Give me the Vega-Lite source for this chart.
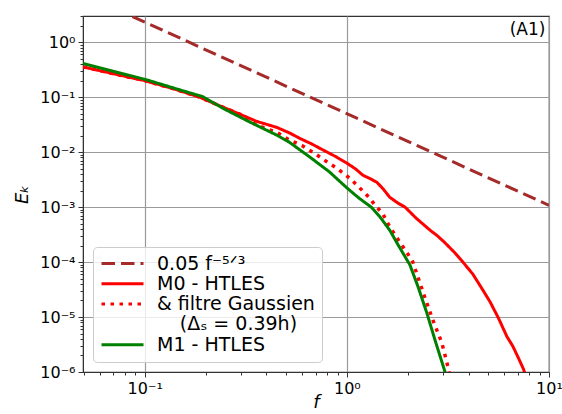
{
  "$schema": "https://vega.github.io/schema/vega-lite/v6.json",
  "width": 466,
  "height": 356,
  "autosize": {"type": "none"},
  "padding": {"left": 83, "top": 16, "right": 13, "bottom": 42},
  "background": "white",
  "config": {
    "font": "DejaVu Sans",
    "view": {"stroke": "#333", "strokeWidth": 1.2},
    "axis": {
      "labelFont": "DejaVu Sans",
      "labelFontSize": 16,
      "labelColor": "#000",
      "titleFont": "DejaVu Sans",
      "titleFontSize": 18,
      "titleFontWeight": "normal",
      "titleFontStyle": "italic",
      "titleColor": "#000",
      "domainColor": "#333",
      "tickColor": "#333",
      "gridColor": "#9a9a9a",
      "gridWidth": 1.2,
      "labelOverlap": false,
      "labelFlush": false,
      "labelBound": false
    },
    "legend": {
      "orient": "bottom-left",
      "offset": 10,
      "padding": 7,
      "strokeColor": "#cccccc",
      "cornerRadius": 4,
      "fillColor": "rgba(255,255,255,0.8)",
      "labelFont": "DejaVu Sans",
      "labelFontSize": 19,
      "labelColor": "#000",
      "symbolType": "stroke",
      "symbolSize": 1764,
      "symbolStrokeWidth": 3,
      "labelOffset": 12,
      "clipHeight": 19,
      "rowPadding": 0.3,
      "labelLimit": 300
    }
  },
  "data": {
    "values": [
      {"s": "0.05 f⁻⁵ᐟ³", "f": 0.087, "E": 2.93},
      {"s": "0.05 f⁻⁵ᐟ³", "f": 10, "E": 0.001077},

      {"s": "M0 - HTLES", "f": 0.0495, "E": 0.356},
      {"s": "M0 - HTLES", "f": 0.07, "E": 0.267},
      {"s": "M0 - HTLES", "f": 0.1, "E": 0.2},
      {"s": "M0 - HTLES", "f": 0.14, "E": 0.141},
      {"s": "M0 - HTLES", "f": 0.187, "E": 0.1},
      {"s": "M0 - HTLES", "f": 0.243, "E": 0.0661},
      {"s": "M0 - HTLES", "f": 0.3, "E": 0.0479},
      {"s": "M0 - HTLES", "f": 0.358, "E": 0.0363},
      {"s": "M0 - HTLES", "f": 0.45, "E": 0.0282},
      {"s": "M0 - HTLES", "f": 0.52, "E": 0.0224},
      {"s": "M0 - HTLES", "f": 0.585, "E": 0.0178},
      {"s": "M0 - HTLES", "f": 0.67, "E": 0.0141},
      {"s": "M0 - HTLES", "f": 0.76, "E": 0.011},
      {"s": "M0 - HTLES", "f": 0.88, "E": 0.00832},
      {"s": "M0 - HTLES", "f": 1.0, "E": 0.00631},
      {"s": "M0 - HTLES", "f": 1.1, "E": 0.00501},
      {"s": "M0 - HTLES", "f": 1.2, "E": 0.0038},
      {"s": "M0 - HTLES", "f": 1.3, "E": 0.00331},
      {"s": "M0 - HTLES", "f": 1.41, "E": 0.00282},
      {"s": "M0 - HTLES", "f": 1.52, "E": 0.00209},
      {"s": "M0 - HTLES", "f": 1.63, "E": 0.00151},
      {"s": "M0 - HTLES", "f": 1.78, "E": 0.0012},
      {"s": "M0 - HTLES", "f": 1.94, "E": 0.001},
      {"s": "M0 - HTLES", "f": 2.2, "E": 0.000631},
      {"s": "M0 - HTLES", "f": 2.58, "E": 0.00038},
      {"s": "M0 - HTLES", "f": 2.8, "E": 0.000302},
      {"s": "M0 - HTLES", "f": 3.06, "E": 0.000224},
      {"s": "M0 - HTLES", "f": 3.4, "E": 0.000151},
      {"s": "M0 - HTLES", "f": 3.75, "E": 0.0001},
      {"s": "M0 - HTLES", "f": 4.2, "E": 0.0000603},
      {"s": "M0 - HTLES", "f": 4.71, "E": 0.0000309},
      {"s": "M0 - HTLES", "f": 5.1, "E": 0.0000191},
      {"s": "M0 - HTLES", "f": 5.59, "E": 0.00001},
      {"s": "M0 - HTLES", "f": 6.2, "E": 0.00000437},
      {"s": "M0 - HTLES", "f": 6.6, "E": 0.00000302},
      {"s": "M0 - HTLES", "f": 7.03, "E": 0.00000186},
      {"s": "M0 - HTLES", "f": 7.5, "E": 0.0000011},
      {"s": "M0 - HTLES", "f": 7.7, "E": 0.000000794},

      {"s": "& filtre Gaussien", "f": 0.0495, "E": 0.356},
      {"s": "& filtre Gaussien", "f": 0.07, "E": 0.267},
      {"s": "& filtre Gaussien", "f": 0.1, "E": 0.2},
      {"s": "& filtre Gaussien", "f": 0.14, "E": 0.141},
      {"s": "& filtre Gaussien", "f": 0.187, "E": 0.1},
      {"s": "& filtre Gaussien", "f": 0.243, "E": 0.0661},
      {"s": "& filtre Gaussien", "f": 0.3, "E": 0.0479},
      {"s": "& filtre Gaussien", "f": 0.358, "E": 0.0309},
      {"s": "& filtre Gaussien", "f": 0.45, "E": 0.0229},
      {"s": "& filtre Gaussien", "f": 0.52, "E": 0.0166},
      {"s": "& filtre Gaussien", "f": 0.6, "E": 0.0132},
      {"s": "& filtre Gaussien", "f": 0.71, "E": 0.00891},
      {"s": "& filtre Gaussien", "f": 0.8, "E": 0.00661},
      {"s": "& filtre Gaussien", "f": 0.89, "E": 0.00513},
      {"s": "& filtre Gaussien", "f": 1.03, "E": 0.00339},
      {"s": "& filtre Gaussien", "f": 1.15, "E": 0.00229},
      {"s": "& filtre Gaussien", "f": 1.3, "E": 0.00145},
      {"s": "& filtre Gaussien", "f": 1.38, "E": 0.00107},
      {"s": "& filtre Gaussien", "f": 1.5, "E": 0.000776},
      {"s": "& filtre Gaussien", "f": 1.63, "E": 0.000437},
      {"s": "& filtre Gaussien", "f": 1.8, "E": 0.000251},
      {"s": "& filtre Gaussien", "f": 2.05, "E": 0.000123},
      {"s": "& filtre Gaussien", "f": 2.12, "E": 0.0001},
      {"s": "& filtre Gaussien", "f": 2.25, "E": 0.0000525},
      {"s": "& filtre Gaussien", "f": 2.43, "E": 0.0000229},
      {"s": "& filtre Gaussien", "f": 2.66, "E": 0.00000891},
      {"s": "& filtre Gaussien", "f": 2.95, "E": 0.00000339},
      {"s": "& filtre Gaussien", "f": 3.16, "E": 0.00000126},
      {"s": "& filtre Gaussien", "f": 3.25, "E": 0.000000794},

      {"s": "M1 - HTLES", "f": 0.0495, "E": 0.409},
      {"s": "M1 - HTLES", "f": 0.07, "E": 0.295},
      {"s": "M1 - HTLES", "f": 0.1, "E": 0.212},
      {"s": "M1 - HTLES", "f": 0.15, "E": 0.135},
      {"s": "M1 - HTLES", "f": 0.194, "E": 0.102},
      {"s": "M1 - HTLES", "f": 0.243, "E": 0.0631},
      {"s": "M1 - HTLES", "f": 0.33, "E": 0.0355},
      {"s": "M1 - HTLES", "f": 0.45, "E": 0.0204},
      {"s": "M1 - HTLES", "f": 0.52, "E": 0.0151},
      {"s": "M1 - HTLES", "f": 0.656, "E": 0.00813},
      {"s": "M1 - HTLES", "f": 0.82, "E": 0.00437},
      {"s": "M1 - HTLES", "f": 1.0, "E": 0.00224},
      {"s": "M1 - HTLES", "f": 1.15, "E": 0.00145},
      {"s": "M1 - HTLES", "f": 1.32, "E": 0.001},
      {"s": "M1 - HTLES", "f": 1.46, "E": 0.000661},
      {"s": "M1 - HTLES", "f": 1.63, "E": 0.00038},
      {"s": "M1 - HTLES", "f": 1.8, "E": 0.0002},
      {"s": "M1 - HTLES", "f": 2.05, "E": 0.0000891},
      {"s": "M1 - HTLES", "f": 2.25, "E": 0.0000355},
      {"s": "M1 - HTLES", "f": 2.49, "E": 0.0000117},
      {"s": "M1 - HTLES", "f": 2.73, "E": 0.0000038},
      {"s": "M1 - HTLES", "f": 3.06, "E": 0.000001},
      {"s": "M1 - HTLES", "f": 3.12, "E": 0.000000794}
    ]
  },
  "layer": [
    {
      "encoding": {
        "x": {
          "field": "f", "type": "quantitative",
          "scale": {"type": "log", "domain": [0.0495, 10], "nice": false},
          "axis": {
            "title": "f",
            "titlePadding": -3,
            "values": [0.05, 0.06, 0.07, 0.08, 0.09, 0.1, 0.2, 0.3, 0.4, 0.5, 0.6, 0.7, 0.8, 0.9, 1, 2, 3, 4, 5, 6, 7, 8, 9, 10],
            "labelExpr": "abs(log(datum.value)/LN10 - round(log(datum.value)/LN10)) < 0.001 ? '10' + (round(log(datum.value)/LN10) < 0 ? '⁻' : '') + ['⁰','¹','²','³','⁴','⁵','⁶'][abs(round(log(datum.value)/LN10))] : ''",
            "tickSize": {"condition": {"test": "abs(log(datum.value)/LN10 - round(log(datum.value)/LN10)) < 0.001", "value": 5}, "value": 3},
            "gridOpacity": {"condition": {"test": "abs(log(datum.value)/LN10 - round(log(datum.value)/LN10)) < 0.001", "value": 1}, "value": 0},
            "labelPadding": 3
          }
        },
        "y": {
          "field": "E", "type": "quantitative",
          "scale": {"type": "log", "domain": [0.000001, 3], "nice": false},
          "axis": {
            "title": "Eₖ",
            "titlePadding": 8,
            "values": [0.000001, 0.000002, 0.000003, 0.000004, 0.000005, 0.000006, 0.000007, 0.000008, 0.000009,
                       0.00001, 0.00002, 0.00003, 0.00004, 0.00005, 0.00006, 0.00007, 0.00008, 0.00009,
                       0.0001, 0.0002, 0.0003, 0.0004, 0.0005, 0.0006, 0.0007, 0.0008, 0.0009,
                       0.001, 0.002, 0.003, 0.004, 0.005, 0.006, 0.007, 0.008, 0.009,
                       0.01, 0.02, 0.03, 0.04, 0.05, 0.06, 0.07, 0.08, 0.09,
                       0.1, 0.2, 0.3, 0.4, 0.5, 0.6, 0.7, 0.8, 0.9, 1, 2, 3],
            "labelExpr": "abs(log(datum.value)/LN10 - round(log(datum.value)/LN10)) < 0.001 ? '10' + (round(log(datum.value)/LN10) < 0 ? '⁻' : '') + ['⁰','¹','²','³','⁴','⁵','⁶'][abs(round(log(datum.value)/LN10))] : ''",
            "tickSize": {"condition": {"test": "abs(log(datum.value)/LN10 - round(log(datum.value)/LN10)) < 0.001", "value": 5}, "value": 3},
            "gridOpacity": {"condition": {"test": "abs(log(datum.value)/LN10 - round(log(datum.value)/LN10)) < 0.001", "value": 1}, "value": 0},
            "labelPadding": 3
          }
        },
        "color": {
          "field": "s", "type": "nominal",
          "scale": {
            "domain": ["0.05 f⁻⁵ᐟ³", "M0 - HTLES", "& filtre Gaussien", "\u200b\u2003\u2009(Δₛ = 0.39h)", "M1 - HTLES"],
            "range": ["#a52a2a", "#ff0000", "#ff0000", "transparent", "#008000"]
          },
          "legend": {"title": null}
        },
        "strokeDash": {
          "field": "s", "type": "nominal",
          "scale": {
            "domain": ["0.05 f⁻⁵ᐟ³", "M0 - HTLES", "& filtre Gaussien", "\u200b\u2003\u2009(Δₛ = 0.39h)", "M1 - HTLES"],
            "range": [[13.5, 6], [1, 0], [3.5, 5.5], [1, 0], [1, 0]]
          },
          "legend": {"title": null}
        }
      },
      "layer": [
        {"transform": [{"filter": {"field": "s", "equal": "0.05 f⁻⁵ᐟ³"}}], "mark": {"type": "line", "strokeWidth": 3, "clip": true}},
        {"transform": [{"filter": {"field": "s", "equal": "M0 - HTLES"}}], "mark": {"type": "line", "strokeWidth": 3, "clip": true}},
        {"transform": [{"filter": {"field": "s", "equal": "& filtre Gaussien"}}], "mark": {"type": "line", "strokeWidth": 3.5, "clip": true}},
        {"transform": [{"filter": {"field": "s", "equal": "M1 - HTLES"}}], "mark": {"type": "line", "strokeWidth": 3, "clip": true}}
      ]
    },
    {
      "data": {"values": [{"label": "(A1)"}]},
      "mark": {"type": "text", "align": "right", "baseline": "middle", "fontSize": 17, "font": "DejaVu Sans", "color": "#000"},
      "encoding": {
        "text": {"field": "label"},
        "x": {"datum": 9.6, "type": "quantitative"},
        "y": {"datum": 1.65, "type": "quantitative"}
      }
    }
  ]
}
